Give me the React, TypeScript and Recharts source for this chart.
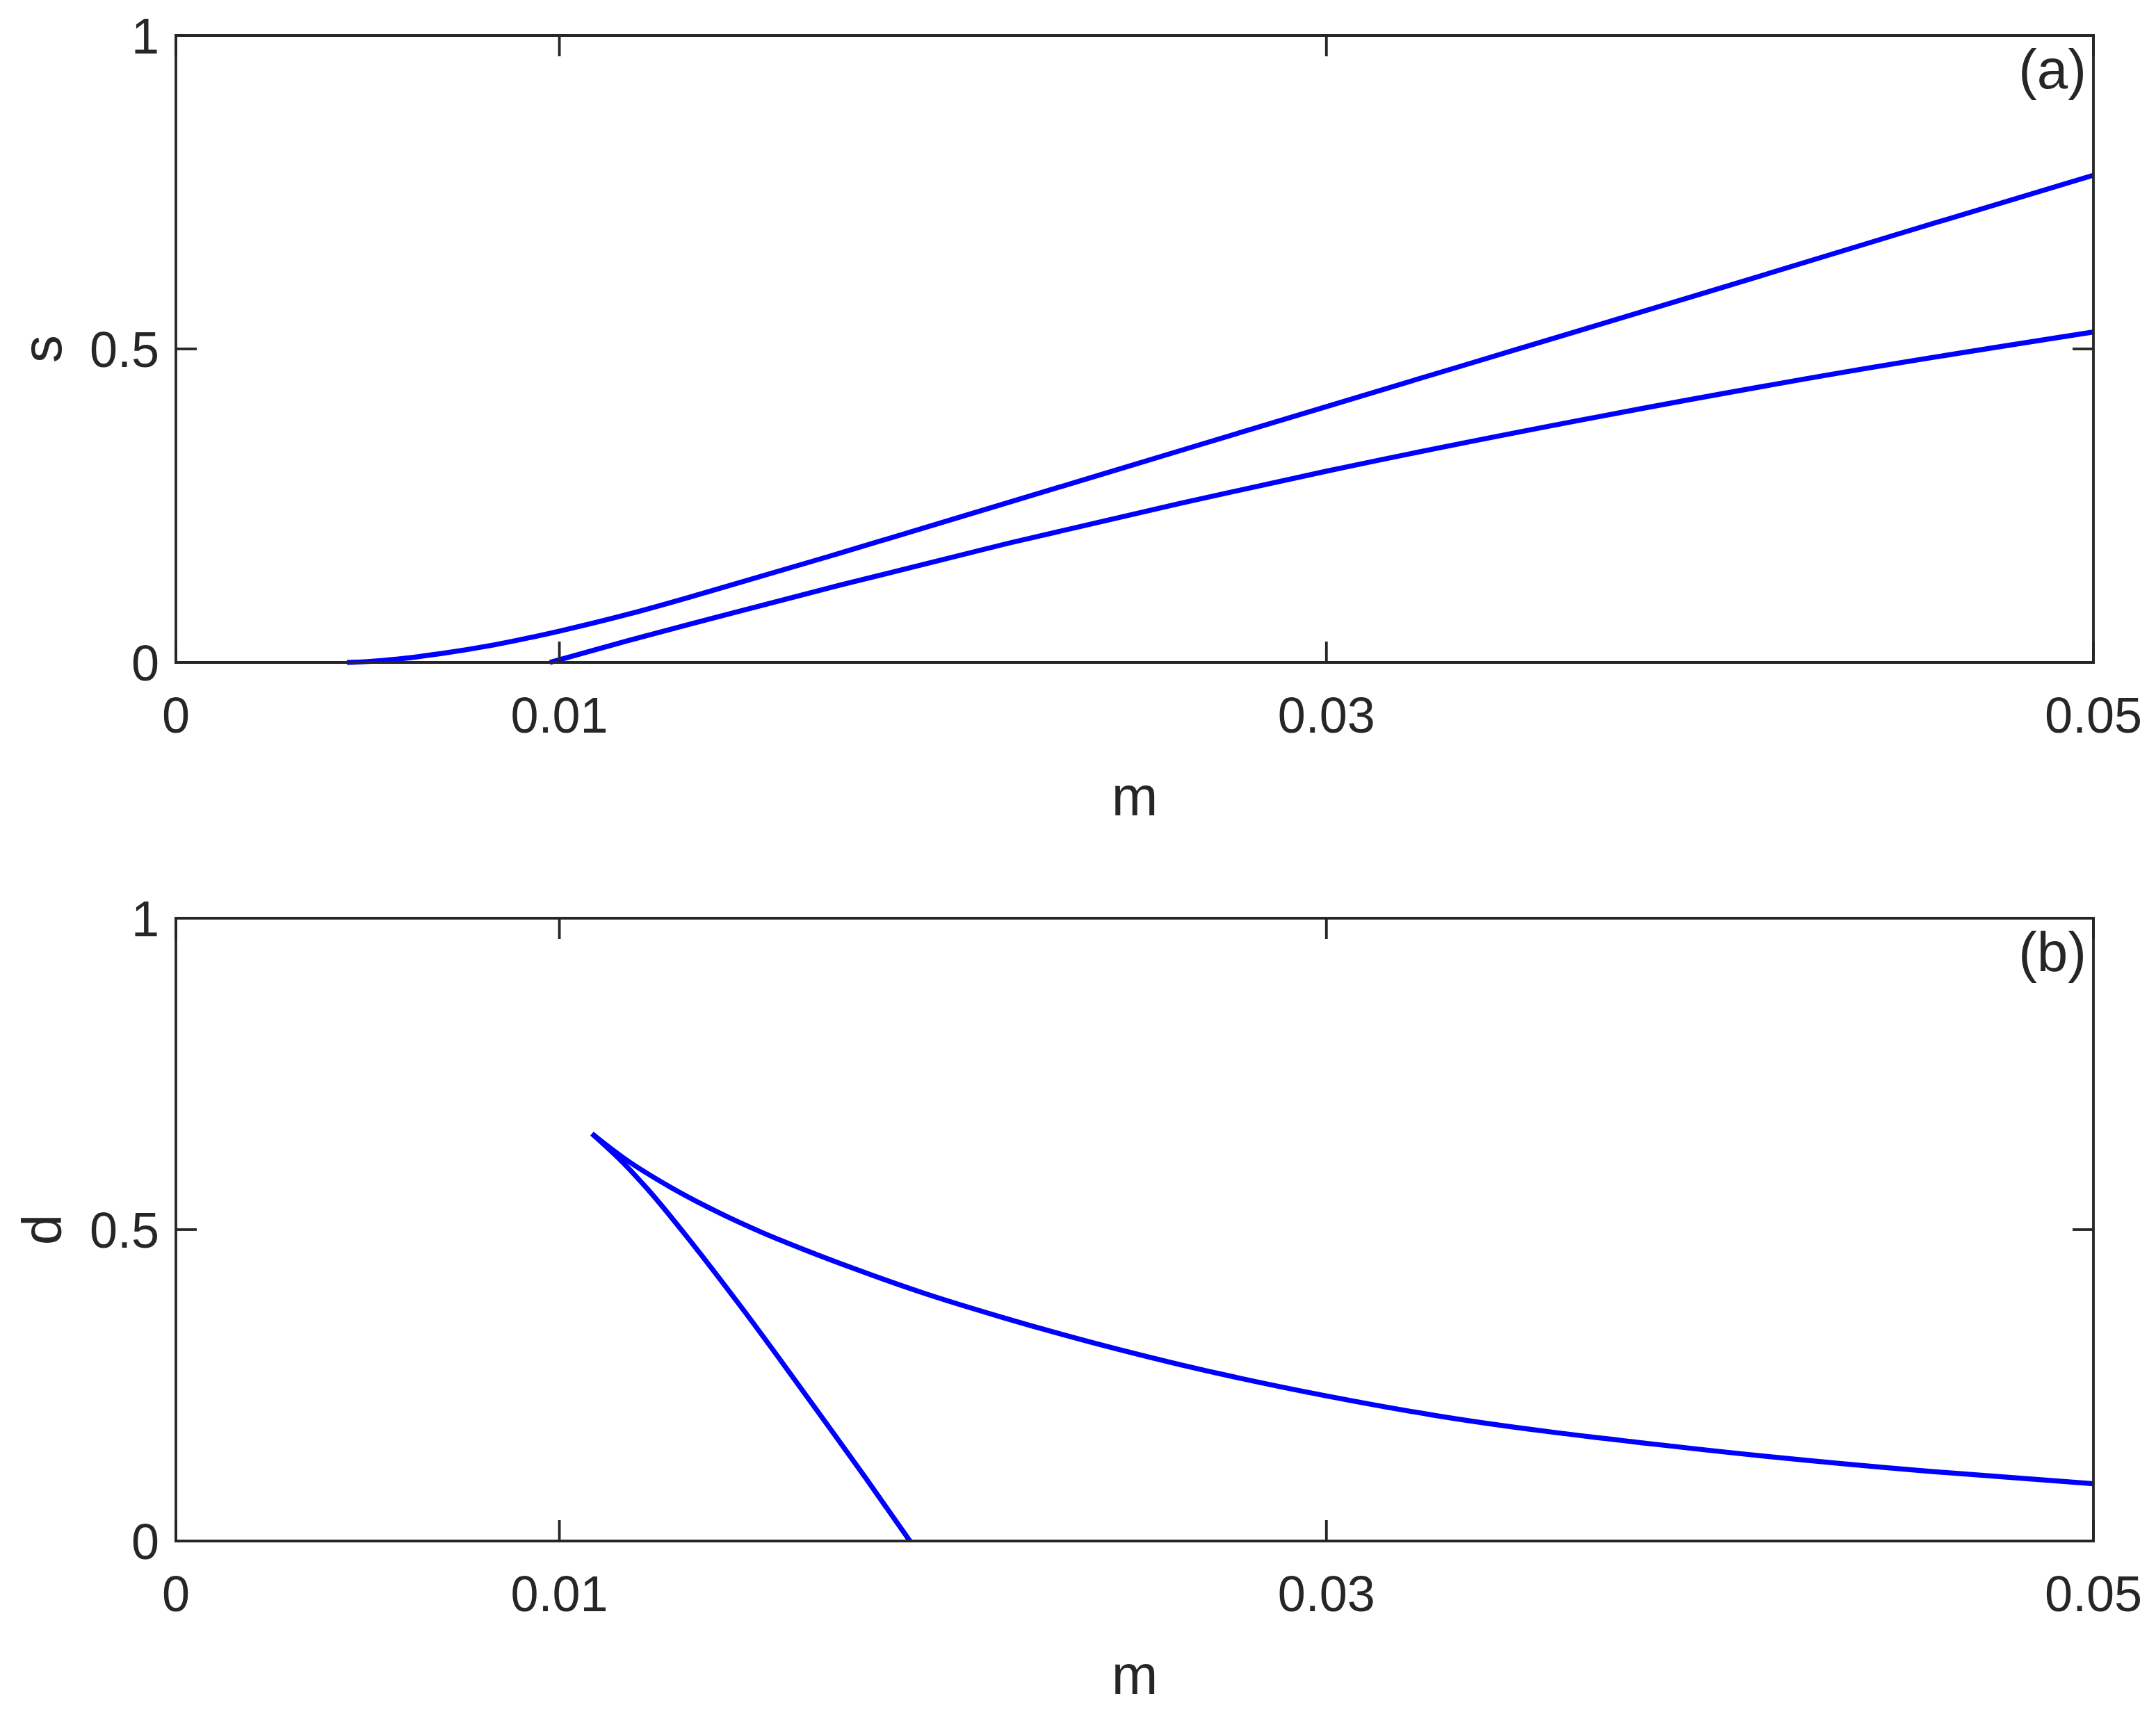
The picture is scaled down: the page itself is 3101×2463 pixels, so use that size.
import { LineChart, Line, XAxis, YAxis, Label } from "recharts";

// m values shared by both panels
const xTicks = [0, 0.01, 0.03, 0.05];
const yTicks = [0, 0.5, 1];

// panel (a): s vs m, two branches
const sUpperM = [0.00446, 0.005, 0.0055, 0.0069, 0.0083, 0.01, 0.0118, 0.0139, 0.0173, 0.0217, 0.0262, 0.03, 0.035, 0.04, 0.045, 0.05];
const sUpperS = [0, 0.0014, 0.0037, 0.014, 0.028, 0.05, 0.077, 0.113, 0.174, 0.255, 0.338, 0.408, 0.5, 0.592, 0.685, 0.777];
const sLowerM = [0.00975, 0.0118, 0.0139, 0.0173, 0.0217, 0.0262, 0.03, 0.0371, 0.0437, 0.05];
const sLowerS = [0, 0.035, 0.069, 0.123, 0.19, 0.254, 0.305, 0.392, 0.465, 0.527];

// panel (b): d vs m, two branches meeting at the cusp
const dUpperM = [0.01085, 0.0117, 0.0129, 0.0141, 0.0153, 0.0165, 0.0177, 0.0195, 0.0215, 0.0262, 0.03, 0.0327, 0.0392, 0.0457, 0.05];
const dUpperD = [0.654, 0.614, 0.568, 0.529, 0.495, 0.465, 0.437, 0.398, 0.36, 0.283, 0.233, 0.203, 0.151, 0.112, 0.092];
const dLowerM = [0.01085, 0.0117, 0.0123, 0.0135, 0.0147, 0.0159, 0.0169, 0.018, 0.01914];
const dLowerD = [0.654, 0.605, 0.565, 0.475, 0.379, 0.279, 0.194, 0.1, 0];

const FONT = '"Liberation Sans", Arial, Helvetica, sans-serif';
const INK = "#262626";
const BLUE = "#0000ff";
const AXIS_W = 3.8;
const TICK_LEN = 30;
const TICK_FONT = 72;
const LABEL_FONT = 80;

const toRows = (ms: number[], vs: number[], key: string) => ms.map((m, i) => ({ m, [key]: vs[i] }));

const axisLine = { stroke: INK, strokeWidth: AXIS_W, strokeLinecap: "square" as const };

function BottomTick(props: any) {
  const { x, y, payload } = props;
  return (
    <g>
      <line x1={x} y1={y} x2={x} y2={y - TICK_LEN} stroke={INK} strokeWidth={AXIS_W} />
      <text x={x} y={y + 101} textAnchor="middle" fontSize={TICK_FONT} fontFamily={FONT} fill={INK}>
        {String(payload.value)}
      </text>
    </g>
  );
}

function TopTick(props: any) {
  const { x, y } = props;
  return <line x1={x} y1={y} x2={x} y2={y + TICK_LEN} stroke={INK} strokeWidth={AXIS_W} />;
}

function LeftTick(props: any) {
  const { x, y, payload } = props;
  return (
    <g>
      <line x1={x} y1={y} x2={x + TICK_LEN} y2={y} stroke={INK} strokeWidth={AXIS_W} />
      <text x={x - 24} y={y + 26} textAnchor="end" fontSize={TICK_FONT} fontFamily={FONT} fill={INK}>
        {String(payload.value)}
      </text>
    </g>
  );
}

function RightTick(props: any) {
  const { x, y } = props;
  return <line x1={x} y1={y} x2={x - TICK_LEN} y2={y} stroke={INK} strokeWidth={AXIS_W} />;
}

const xLabel = (props: any) => {
  const vb = props.viewBox || {};
  return (
    <text x={vb.x + vb.width / 2} y={vb.y + 220} textAnchor="middle" fontSize={LABEL_FONT} fontFamily={FONT} fill={INK}>
      m
    </text>
  );
};

const yLabel = (text: string) => (props: any) => {
  const vb = props.viewBox || {};
  const cx = 88;
  const cy = vb.y + vb.height / 2;
  return (
    <text x={cx} y={cy} transform={`rotate(-90 ${cx} ${cy})`} textAnchor="middle" fontSize={LABEL_FONT} fontFamily={FONT} fill={INK}>
      {text}
    </text>
  );
};

const panelTag = (text: string) => (props: any) => {
  const vb = props.viewBox || {};
  return (
    <text x={vb.x + vb.width - 10} y={vb.y + 77} textAnchor="end" fontSize={LABEL_FONT} fontFamily={FONT} fill={INK}>
      {text}
    </text>
  );
};

function Panel({ height, top, axisH, yName, tag, series }: { height: number; top: number; axisH: number; yName: string; tag: string; series: { data: any[]; key: string }[] }) {
  return (
    <LineChart width={3101} height={height} margin={{ top, right: 89, bottom: 0, left: 0 }} style={{ display: "block" }}>
      <XAxis xAxisId="main" dataKey="m" type="number" domain={[0, 0.05]} ticks={xTicks} interval={0} height={axisH}
        axisLine={axisLine} tickLine={false} tickSize={0} tickMargin={0} tick={<BottomTick />}>
        <Label content={xLabel} />
      </XAxis>
      <XAxis xAxisId="top" orientation="top" dataKey="m" type="number" domain={[0, 0.05]} ticks={xTicks} interval={0} height={1}
        axisLine={axisLine} tickLine={false} tickSize={0} tickMargin={0} tick={<TopTick />}>
        <Label content={panelTag(tag)} />
      </XAxis>
      <YAxis yAxisId="main" type="number" domain={[0, 1]} ticks={yTicks} interval={0} width={253}
        axisLine={axisLine} tickLine={false} tickSize={0} tickMargin={0} tick={<LeftTick />}>
        <Label content={yLabel(yName)} />
      </YAxis>
      <YAxis yAxisId="right" orientation="right" type="number" domain={[0, 1]} ticks={yTicks} interval={0} width={1}
        axisLine={axisLine} tickLine={false} tickSize={0} tickMargin={0} tick={<RightTick />} />
      {/* invisible copy so the top/right frame axes get a series of their own */}
      <Line xAxisId="top" yAxisId="right" data={series[0].data} dataKey={series[0].key} stroke="none"
        dot={false} activeDot={false} isAnimationActive={false} />
      {series.map((s, i) => (
        <Line key={i} xAxisId="main" yAxisId="main" data={s.data} dataKey={s.key} type="monotone" stroke={BLUE} strokeWidth={7.2}
          dot={false} activeDot={false} isAnimationActive={false} />
      ))}
    </LineChart>
  );
}

export default function App() {
  return (
    <div style={{ position: "absolute", left: 0, top: 0, width: 3101, height: 2463, background: "#fff" }}>
      <Panel height={1231} top={50} axisH={278} yName="s" tag="(a)"
        series={[
          { data: toRows(sUpperM, sUpperS, "s"), key: "s" },
          { data: toRows(sLowerM, sLowerS, "s"), key: "s" },
        ]} />
      <Panel height={1232} top={89} axisH={246} yName="d" tag="(b)"
        series={[
          { data: toRows(dUpperM, dUpperD, "d"), key: "d" },
          { data: toRows(dLowerM, dLowerD, "d"), key: "d" },
        ]} />
    </div>
  );
}
